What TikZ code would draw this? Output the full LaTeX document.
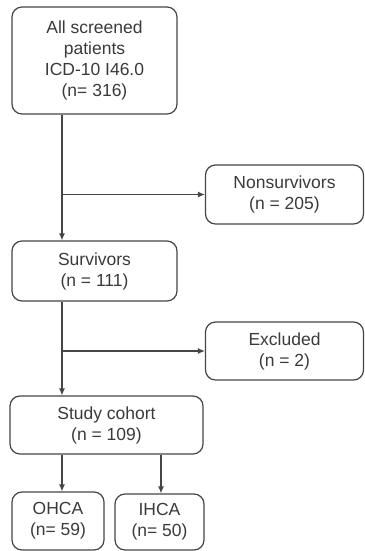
\documentclass[tikz,border=0pt]{standalone}
\usepackage{fontspec}
\setmainfont{Liberation Sans}
\usepackage{xcolor}
\usetikzlibrary{arrows.meta}
\definecolor{boxline}{HTML}{454545}
\definecolor{boxtext}{HTML}{3A3A3A}
\begin{document}
\begin{tikzpicture}[x=1pt,y=-1pt]
\tikzset{>={Latex[width=6pt,length=7pt]}}
\tikzstyle{stage} =[draw=boxline, line width=1.2pt, rounded corners=10pt, align=center, text=boxtext, inner sep=0pt, font=\fontsize{17.5}{21}\selectfont]
\useasboundingbox (0,0) rectangle (364,551);

\node[stage,minimum width=165pt,minimum height=107pt](all) at (94.5,60.5){All screened\\patients\\ICD-10 I46.0\\(n= 316)};
\node[stage,minimum width=158pt,minimum height=59pt](nonsurv) at (284.5,194.5){Nonsurvivors\\(n = 205)};
\node[stage,minimum width=165pt,minimum height=60pt](surv) at (94.5,271){Survivors\\(n = 111)};
\node[stage,minimum width=158pt,minimum height=58pt](excl) at (284.5,351){Excluded\\(n = 2)};
\node[stage,minimum width=193pt,minimum height=58pt](cohort) at (106.5,425){Study cohort\\(n = 109)};
\node[stage,minimum width=92pt,minimum height=58pt](ohca) at (58,521){OHCA\\(n= 59)};
\node[stage,minimum width=89pt,minimum height=56pt](ihca) at (159.5,522){IHCA\\(n= 50)};

\coordinate (spine) at (62,0);
\coordinate (split1) at (62,194.5);
\coordinate (split2) at (62,351);
\coordinate (right) at (161,0);

\draw [->,line width=1.2pt,draw=boxline] (all.south -| spine) to (surv.north -| spine);
\draw [->,line width=1.2pt,draw=boxline] (split1) to (nonsurv.west);
\draw [->,line width=1.2pt,draw=boxline] (surv.south -| spine) to (cohort.north -| spine);
\draw [->,line width=1.2pt,draw=boxline] (split2) to (excl.west);
\draw [->,line width=1.2pt,draw=boxline] (cohort.south -| spine) to (ohca.north -| spine);
\draw [->,line width=1.2pt,draw=boxline] (cohort.south -| right) to (ihca.north -| right);
\end{tikzpicture}
\end{document}
